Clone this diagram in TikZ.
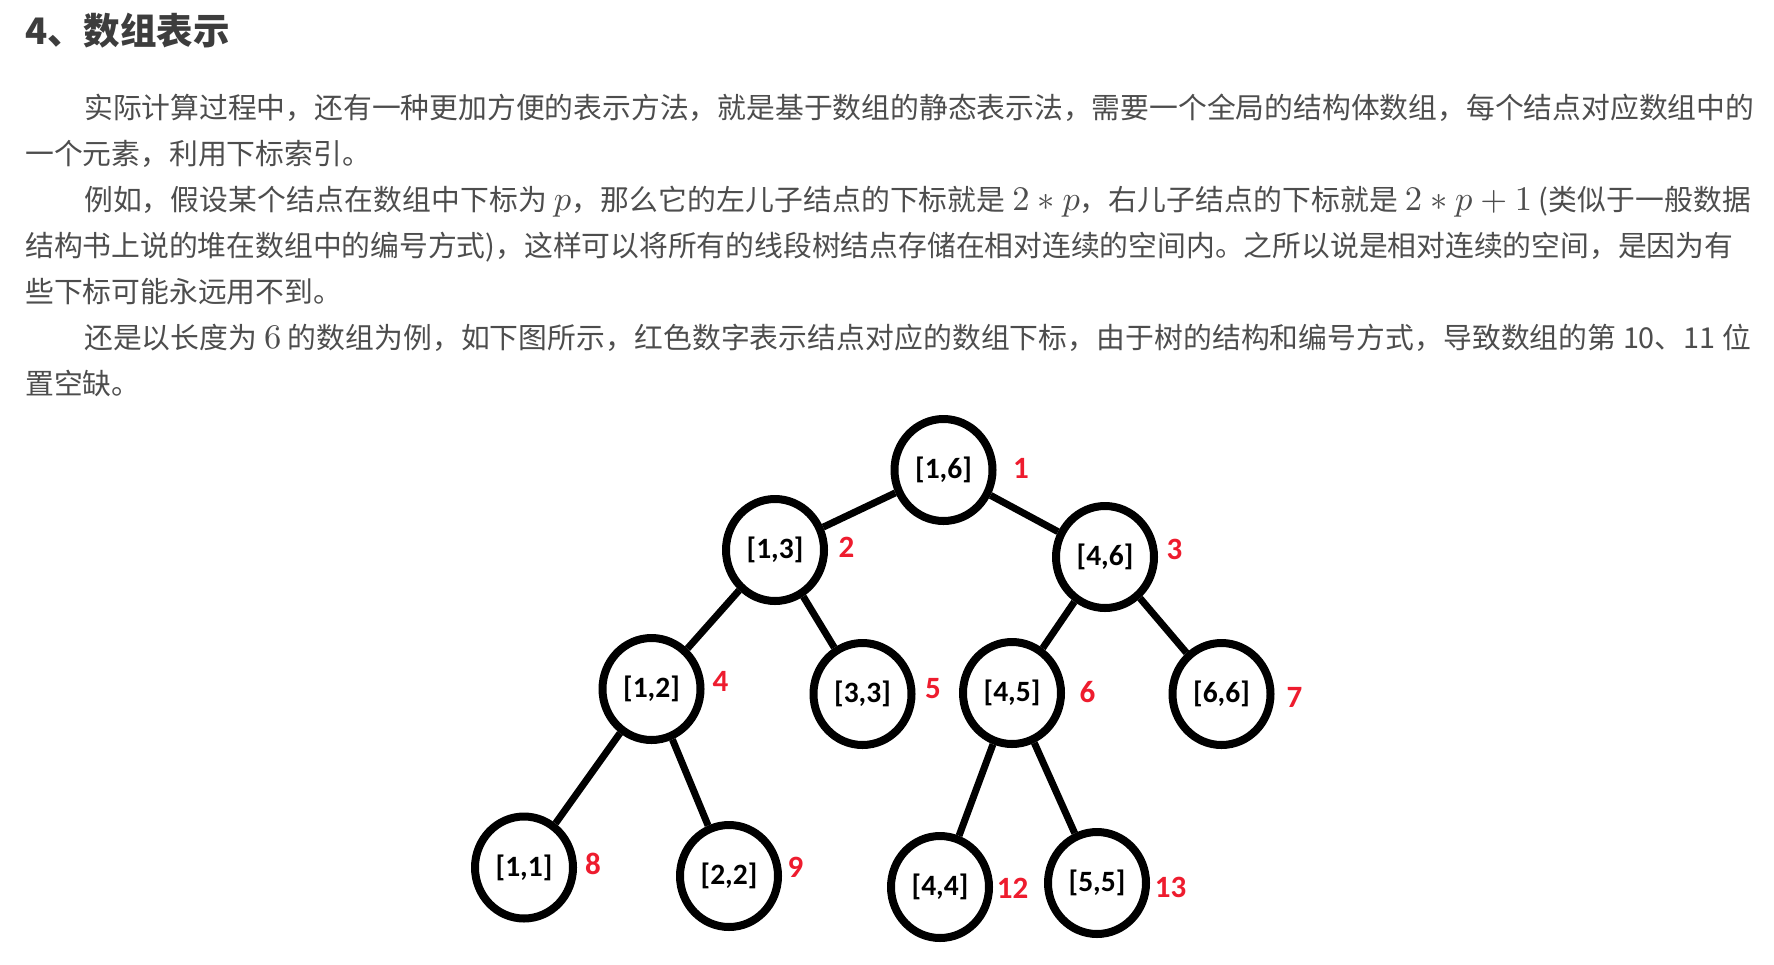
\documentclass[tikz,border=0pt]{standalone}
\usepackage[no-math]{fontspec}
\usetikzlibrary{shapes.geometric}
\DeclareFontShape{OML}{cmm}{m}{it}{<->cmmi10}{}
\DeclareFontShape{OMS}{cmsy}{m}{n}{<->cmsy10}{}
\DeclareFontShape{OT1}{cmr}{m}{n}{<->cmr10}{}
\newfontfamily\cjk{Noto Sans CJK SC}
\newfontfamily\lab{Carlito}
\definecolor{txtgray}{HTML}{4D4D4D}
\definecolor{headgray}{HTML}{3D3D3D}
\definecolor{idxred}{HTML}{EE1C2E}
\XeTeXlinebreaklocale "zh"
\XeTeXlinebreakskip=0pt plus 4pt minus 1pt
\newcommand{\mth}[1]{{\fontsize{34.5}{34.5}\selectfont$#1$}}
\newcommand{\jline}[2]{\parbox[t]{#1}{\noindent\tolerance=10000\hbadness=10000\parfillskip=0pt\relax #2}}
\tikzset{
  tnode/.style={ellipse, draw=black, line width=8pt, fill=white, minimum width=98pt, minimum height=102pt, inner sep=0pt, font={\lab\bfseries\fontsize{29.5}{29.5}\selectfont}},
  idxlab/.style={inner sep=0pt, text=idxred, font={\lab\bfseries\fontsize{31}{31}\selectfont}},
  tedge/.style={line width=7pt, draw=black},
  txtline/.style={anchor=base west, inner sep=0pt, text=txtgray, font={\cjk\fontsize{28.8}{46}\selectfont}}
}
\begin{document}
\begin{tikzpicture}[x=1pt,y=-1pt]
\useasboundingbox (0,0) rectangle (1774,964);
\fill[white] (0,0) rectangle (1774,964);
% heading
\node[anchor=base west, inner sep=0pt, text=headgray, font={\cjk\bfseries\fontsize{36.5}{36.5}\selectfont}] (title) at (25,44.8) {4、数组表示};
% body text
\node[txtline] (l1) at (84,118.5) {\jline{1670pt}{实际计算过程中，还有一种更加方便的表示方法，就是基于数组的静态表示法，需要一个全局的结构体数组，每个结点对应数组中的}};
\node[txtline] (l2) at (25,164.5) {一个元素，利用下标索引。};
\node[txtline] (l3) at (84,210.5) {\jline{1667pt}{例如，假设某个结点在数组中下标为 \mth{p}，那么它的左儿子结点的下标就是 \mth{2*p}，右儿子结点的下标就是 \mth{2*p+1} (类似于一般数据}};
\node[txtline] (l4) at (25,256.5) {\jline{1708pt}{结构书上说的堆在数组中的编号方式)，这样可以将所有的线段树结点存储在相对连续的空间内。之所以说是相对连续的空间，是因为有}};
\node[txtline] (l5) at (25,302.5) {些下标可能永远用不到。};
\node[txtline] (l6) at (84,348.5) {\jline{1667pt}{还是以长度为 \mth{6} 的数组为例，如下图所示，红色数字表示结点对应的数组下标，由于树的结构和编号方式，导致数组的第 10、11 位}};
\node[txtline] (l7) at (25,394.5) {置空缺。};
% tree nodes
\node[tnode] (n1) at (943.5,470) {[1,6]};
\node[tnode] (n2) at (775,550) {[1,3]};
\node[tnode] (n3) at (1105,557) {[4,6]};
\node[tnode] (n4) at (651.5,689) {[1,2]};
\node[tnode] (n5) at (862.5,694) {[3,3]};
\node[tnode] (n6) at (1012,693) {[4,5]};
\node[tnode] (n7) at (1221.5,694) {[6,6]};
\node[tnode] (n8) at (524,867.5) {[1,1]};
\node[tnode] (n9) at (729,876) {[2,2]};
\node[tnode] (n12) at (940,887) {[4,4]};
\node[tnode] (n13) at (1097,883) {[5,5]};
% edges
\draw[tedge] (n1) -- (n2);
\draw[tedge] (n1) -- (n3);
\draw[tedge] (n2) -- (n4);
\draw[tedge] (n2) -- (n5);
\draw[tedge] (n3) -- (n6);
\draw[tedge] (n3) -- (n7);
\draw[tedge] (n4) -- (n8);
\draw[tedge] (n4) -- (n9);
\draw[tedge] (n6) -- (n12);
\draw[tedge] (n6) -- (n13);
% index labels
\node[idxlab] (i1) at (1021,468) {1};
\node[idxlab] (i2) at (846.5,547.5) {2};
\node[idxlab] (i3) at (1174.5,549) {3};
\node[idxlab] (i4) at (720.5,681) {4};
\node[idxlab] (i5) at (933,688.5) {5};
\node[idxlab] (i6) at (1087.5,692.5) {6};
\node[idxlab] (i7) at (1294.5,697) {7};
\node[idxlab] (i8) at (593,864) {8};
\node[idxlab] (i9) at (795.5,867.5) {9};
\node[idxlab] (i12) at (1012.5,888.5) {12};
\node[idxlab] (i13) at (1170.5,887) {13};
\end{tikzpicture}
\end{document}
